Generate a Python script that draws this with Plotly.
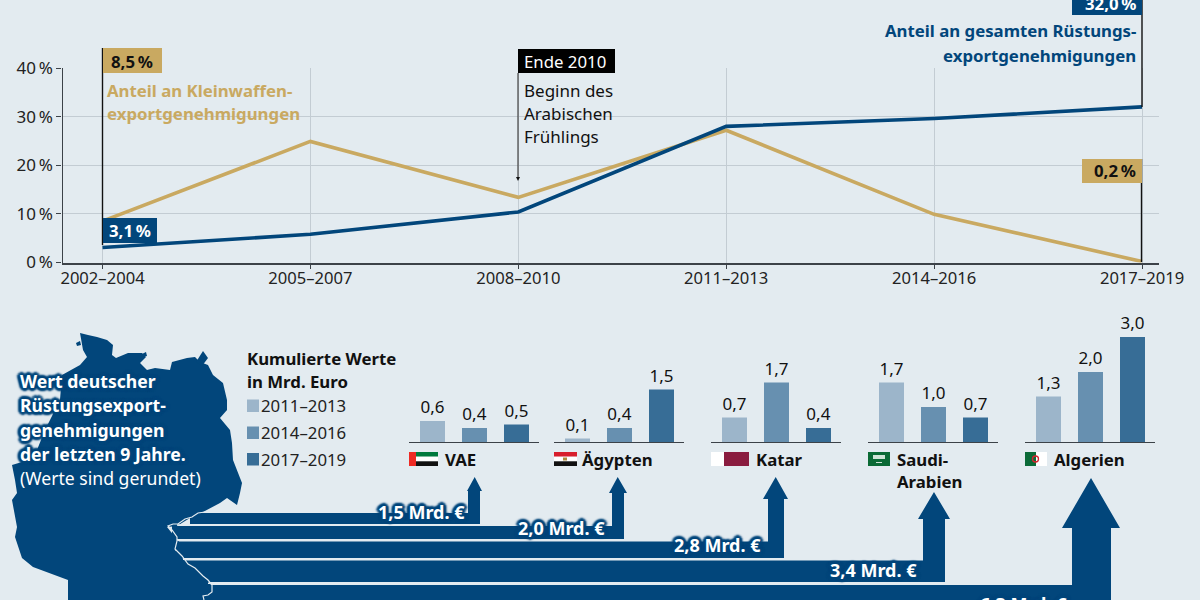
import plotly.graph_objects as go

# ---------- data ----------
periods = ["2002–2004", "2005–2007", "2008–2010", "2011–2013", "2014–2016", "2017–2019"]
gesamt = [3.1, 5.8, 10.4, 28.0, 29.6, 32.0]
klein = [8.5, 24.9, 13.4, 27.2, 9.9, 0.2]
y_ticks = [0, 10, 20, 30, 40]
y_labels = ["0\u2009%", "10\u2009%", "20\u2009%", "30\u2009%", "40\u2009%"]

bar_periods = ["2011–2013", "2014–2016", "2017–2019"]
vae = [0.6, 0.4, 0.5]
aegypten = [0.1, 0.4, 1.5]
katar = [0.7, 1.7, 0.4]
saudi = [1.7, 1.0, 0.7]
algerien = [1.3, 2.0, 3.0]
total_labels = ["1,5 Mrd. €", "2,0 Mrd. €", "2,8 Mrd. €", "3,4 Mrd. €", "6,3 Mrd. €"]

# ---------- style ----------
BG = "#e3ebf0"
NAVY = "#02467b"
GOLD = "#c9a961"
GRID = "#c3ccd3"
DARK = "#3c4248"
BAR_COLS = ["#9cb5ca", "#6790b0", "#376d96"]
FONT = "Noto Sans"
W, H = 1200, 600
SZ = 16.8
SZ_MAP = 17.6
SZ_TOTAL = 18

def px(x): return x / W
def py(y): return 1 - y / H

shapes, annotations = [], []

def rect(x0, y0, x1, y1, color):
    shapes.append(dict(type="rect", xref="paper", yref="paper", x0=px(x0), x1=px(x1),
                       y0=py(y1), y1=py(y0), fillcolor=color, line=dict(width=0)))

def line(x0, y0, x1, y1, color=DARK, width=1.3):
    shapes.append(dict(type="line", xref="paper", yref="paper", x0=px(x0), x1=px(x1),
                       y0=py(y0), y1=py(y1), line=dict(color=color, width=width)))

def poly(points, fill=None, color=None, width=0, close=True):
    d = "M " + " L ".join(f"{px(a):.5f} {py(b):.5f}" for a, b in points) + (" Z" if close else "")
    s = dict(type="path", xref="paper", yref="paper", path=d, line=dict(width=width, color=color or "rgba(0,0,0,0)"))
    if fill:
        s["fillcolor"] = fill
    shapes.append(s)

def text(x, y, s, size=SZ, color="#111", bold=False, anchor="left", shadow=None):
    f = dict(family=FONT, size=size, color=color, weight=700 if bold else 400)
    if shadow:
        f["shadow"] = shadow
    annotations.append(dict(xref="paper", yref="paper", x=px(x), y=py(y), text=s, showarrow=False,
                            xanchor=anchor, yanchor="middle", font=f, borderpad=0, borderwidth=0))

halo = ",".join(f"{a}px {b}px 2px {NAVY}" for a, b in [(2, 0), (-2, 0), (0, 2), (0, -2), (2, 2), (-2, -2), (2, -2), (-2, 2), (3, 0), (-3, 0), (0, 3), (0, -3)])

# ---------- Germany map ----------
outline = [(80,333),(88,335),(97,337),(107,340),(113,345),(112,355),(116,358),(128,353),(142,353),(146,357),(140,363),
           (147,370),(155,368),(170,370),(172,362),(187,358),(195,357),(200,362),(208,365),(213,375),(223,383),(227,400),
           (227,410),(220,418),(230,430),(232,443),(233,460),(242,483),(240,493),(237,505),(227,498),(220,503),(203,512),
           (190,518),(177,526),(167,527),(175,537),(180,543),(175,550),(187,563),(207,580),(213,587),(208,595),(202,595),
           (204,600),(68,600),(68,580),(33,567),(22,558),(15,537),(17,527),(12,500),(17,493),(15,480),(12,465),(22,462),
           (37,450),(45,430),(60,400),(62,375),(80,365),(87,357),(83,350)]
poly(outline, fill=NAVY)
poly([(196,362),(203,351),(208,358),(202,366)], fill=NAVY)
poly([(76,343),(80,341),(81,345),(77,346)], fill=NAVY)
poly([(142,354),(146,352),(147,356),(143,357)], fill=NAVY)

# ---------- flow bands and arrows ----------
bands = [
    # left, top, bottom, shaft0, shaft1, head0, head1, tip x, tip y, head base y
    (190, 513, 524, 468, 480, 467, 482, 474.7, 477, 491),
    (172, 526, 539, 612, 624, 609, 627, 617.7, 477, 493),
    (176, 541.5, 558, 768, 784, 763, 788, 775.7, 477, 499),
    (180, 560.5, 582, 923, 945, 918, 950, 934, 492, 519),
    (200, 585, 600, 1072, 1111, 1062, 1120, 1091, 478, 528),
]
for l, t, b, s0, s1, h0, h1, tx, ty, hb in bands:
    poly([(l, t), (s0, t), (s0, hb), (h0, hb), (tx, ty), (h1, hb), (s1, hb), (s1, b), (l, b)], fill=NAVY)

poly([(205,512),(198,513),(192,517),(185,519),(178,524),(173,524),(168,526),(172,530),(177,537),(177,541),(175,549),
      (182,556),(188,564),(195,568),(203,576),(208,580),(212,585),(212,592),(208,595),(203,596),(204,600)],
     color=BG, width=1.2, close=False)
for y, x0 in [(525, 177), (540, 177), (559.3, 183), (583.3, 208)]:
    line(x0, y, x0 + 60, y, BG, 1.6)

for (cx, cy), s in zip([(421, 512), (561, 528), (717, 545), (873, 570), (1023, 604)], total_labels):
    text(cx, cy, s, size=SZ_TOTAL, color="#ffffff", bold=True, anchor="center", shadow=halo)

# ---------- map text ----------
for y, s in zip([381, 405, 430, 454], ["Wert deutscher", "Rüstungsexport-", "genehmigungen", "der letzten 9 Jahre."]):
    text(20, y, s, size=SZ_MAP, color="#ffffff", bold=True, shadow=halo)
text(20, 478, "(Werte sind gerundet)", size=SZ_MAP, color="#ffffff")

# ---------- bar legend ----------
text(247, 358, "Kumulierte Werte", bold=True)
text(247, 381, "in Mrd. Euro", bold=True)
for (y0, y1), col, lab in zip([(399.5, 412), (426.5, 439), (453, 465.5)], BAR_COLS, bar_periods):
    rect(247, y0, 259, y1, col)
    text(261, (y0 + y1) / 2, lab, color="#222")

# ---------- line-chart callouts ----------
line(102.5, 48, 102.5, 245, "#111", 1.4)
rect(103, 48, 162, 73, GOLD)
text(132, 61, "8,5\u2009%", bold=True, anchor="center")
rect(103, 218, 157, 243, NAVY)
text(130, 230.5, "3,1\u2009%", color="#fff", bold=True, anchor="center")
text(107, 90, "Anteil an Kleinwaffen-", color=GOLD, bold=True)
text(107, 113, "exportgenehmigungen", color=GOLD, bold=True)

line(1142, 0, 1142, 107, "#111", 1.4)
rect(1072, -2, 1142, 15, NAVY)
text(1137, 3, "32,0\u2009%", color="#fff", bold=True, anchor="right")
text(1136, 31, "Anteil an gesamten Rüstungs-", color=NAVY, bold=True, anchor="right")
text(1136, 55, "exportgenehmigungen", color=NAVY, bold=True, anchor="right")

line(1141.5, 159, 1141.5, 262, "#111", 1.4)
rect(1082, 159, 1142, 183, GOLD)
text(1136, 171, "0,2\u2009%", bold=True, anchor="right")

rect(518, 49, 615, 73, "#000000")
text(524, 61.5, "Ende 2010", color="#fff")
line(518, 73, 518, 178, "#444", 1.2)
poly([(516, 177), (520, 177), (518, 181)], fill="#111")
for y, s in zip([90, 113, 136], ["Beginn des", "Arabischen", "Frühlings"]):
    text(524, y, s, size=17, color="#111")

# ---------- flags ----------
fy0, fy1 = 452, 466
rect(409, fy0, 416, fy1, "#ee2a24")
rect(416, fy0, 438, fy0 + 4.7, "#007a3d")
rect(416, fy0 + 4.7, 438, fy0 + 9.3, "#ffffff")
rect(416, fy0 + 9.3, 438, fy1, "#111111")
rect(554, fy0, 577, fy0 + 4.7, "#d81e2c")
rect(554, fy0 + 4.7, 577, fy0 + 9.3, "#ffffff")
rect(554, fy0 + 9.3, 577, fy1, "#111111")
rect(563, fy0 + 5.5, 567, fy0 + 8.5, "#b08a3c")
rect(711, fy0, 724, fy1, "#ffffff")
rect(724, fy0, 749, fy1, "#8a1c3f")
rect(868, fy0, 890, fy1, "#0a6a35")
rect(873, fy0 + 3, 885, fy0 + 7, "#cfe3d6")
rect(876, fy0 + 10, 882, fy0 + 11, "#cfe3d6")
rect(1025, fy0, 1036, fy1, "#0b6a38")
rect(1036, fy0, 1047, fy1, "#ffffff")
shapes.append(dict(type="circle", xref="paper", yref="paper", x0=px(1032.5), x1=px(1038.5), y0=py(462), y1=py(456),
                   line=dict(color="#d8232f", width=1.3)))

# ---------- figure ----------
fig = go.Figure()
x_idx = list(range(len(periods)))
fig.add_trace(go.Scatter(x=x_idx, y=klein, mode="lines", line=dict(color=GOLD, width=3.6), hoverinfo="skip", cliponaxis=False))
fig.add_trace(go.Scatter(x=x_idx, y=gesamt, mode="lines", line=dict(color=NAVY, width=3.6), hoverinfo="skip", cliponaxis=False))

layout = dict(
    template="none",
    width=W, height=H, margin=dict(l=0, r=0, t=0, b=0, pad=0), paper_bgcolor=BG, plot_bgcolor=BG,
    showlegend=False, shapes=shapes, annotations=annotations, bargap=0.405,
    font=dict(family=FONT, color="#111"),
    xaxis=dict(domain=[px(62.5), px(1159)], range=[-40 / 207.9, 5 + 17 / 207.9], tickvals=x_idx, ticktext=periods, automargin=False,
               showgrid=True, gridcolor=GRID, gridwidth=1, zeroline=False, showline=True, linecolor=DARK, linewidth=1.5,
               ticks="outside", ticklen=5, tickcolor=DARK, tickwidth=1, ticklabelstandoff=-5,
               tickfont=dict(size=16.6, family=FONT, color="#222"), anchor="y"),
    yaxis=dict(domain=[py(262.5), py(68)], range=[0, 40], tickvals=y_ticks, ticktext=y_labels, automargin=False,
               showgrid=True, gridcolor=GRID, gridwidth=1.2, zeroline=False, showline=True, linecolor=DARK, linewidth=1.3,
               ticks="outside", ticklen=5, tickcolor=DARK, tickwidth=1, tickfont=dict(size=17, family=FONT, color="#222"), anchor="x"),
)

panels = [("VAE", vae, 409), ("Ägypten", aegypten, 554), ("Katar", katar, 711), ("Saudi", saudi, 868), ("Algerien", algerien, 1025)]
PANEL_W = 130
BASE_Y, TOP_Y = 442, 322
PX_PER_UNIT = 35
for i, (name, vals, x0) in enumerate(panels):
    n = i + 2
    fig.add_trace(go.Bar(x=[0, 1, 2], y=vals, xaxis=f"x{n}", yaxis=f"y{n}", marker=dict(color=BAR_COLS, line=dict(width=0)),
                         width=25 / 42, text=[f"{v:.1f}".replace(".", ",") for v in vals], textposition="outside",
                         textfont=dict(family=FONT, size=17, color="#111"), cliponaxis=False, hoverinfo="skip",
                         constraintext="none", name=name))
    layout[f"xaxis{n}"] = dict(domain=[px(x0), px(x0 + PANEL_W)], range=[-23.5 / 42, (PANEL_W - 23.5) / 42], automargin=False,
                               showticklabels=False, ticks="", showgrid=False, zeroline=False, showline=True,
                               linecolor=DARK, linewidth=1.4, anchor=f"y{n}")
    layout[f"yaxis{n}"] = dict(domain=[py(BASE_Y), py(TOP_Y)], range=[0, (BASE_Y - TOP_Y) / PX_PER_UNIT], automargin=False,
                               visible=False, anchor=f"x{n}")

for x, s in [(445, "VAE"), (582, "Ägypten"), (756, "Katar"), (897, "Saudi-"), (1054, "Algerien")]:
    text(x, 459, s, bold=True)
text(897, 481, "Arabien", bold=True)

layout["annotations"] = annotations
fig.update_layout(**layout)
fig.write_html("out.html", config=dict(displayModeBar=False),
               post_script="document.body.style.margin='0';document.body.style.overflow='hidden';")
